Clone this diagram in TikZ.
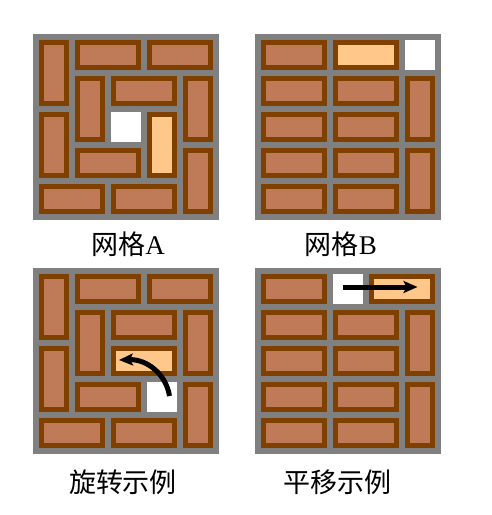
\documentclass[tikz,border=0pt]{standalone}
\usepackage{fontspec}
\setmainfont{Liberation Serif}
\newfontfamily\cjk{Noto Sans CJK SC}
\usetikzlibrary{arrows.meta}

\definecolor{brickline}{RGB}{128,64,0}
\definecolor{brickfill}{RGB}{191,123,87}
\definecolor{pickfill}{RGB}{255,200,138}

\begin{document}
\begin{tikzpicture}[x=1pt, y=-1pt,
  frame/.style={fill=gray},
  tile/.style={draw=brickline, fill=brickfill, line width=5pt},
  picked/.style={draw=brickline, fill=pickfill, line width=5pt},
  hole/.style={fill=white},
  move/.style={line width=5pt, -{Stealth[length=14pt,width=12pt,inset=3pt]}},
  caption/.style={font=\fontsize{27}{27}\selectfont}]

\useasboundingbox (0,0) rectangle (492,515);

% grid A
\begin{scope}[shift={(33,34)}]
\fill[frame] (0,0) rectangle (185.5,185.5);
\foreach \a/\b/\c/\d in {0/0/0/1, 1/0/2/0, 3/0/4/0, 1/1/1/2, 2/1/3/1, 4/1/4/2,
                         0/2/0/3, 1/3/2/3, 4/3/4/4, 0/4/1/4, 2/4/3/4}
  \draw[tile] ({8+36*\a}, {8+36*\b}) rectangle ({33.5+36*\c}, {33.5+36*\d});
\draw[picked] (116,80) rectangle (141.5,141.5);
\fill[hole] (77.5,77.5) rectangle (108,108);
\end{scope}

% grid B
\begin{scope}[shift={(255,34)}]
\fill[frame] (0,0) rectangle (185.5,185.5);
\foreach \a/\b/\c/\d in {0/0/1/0, 4/1/4/2, 4/3/4/4}
  \draw[tile] ({8+36*\a}, {8+36*\b}) rectangle ({33.5+36*\c}, {33.5+36*\d});
\foreach \r in {1,...,4} {
  \draw[tile] (8, {8+36*\r}) rectangle (69.5, {33.5+36*\r});
  \draw[tile] (80, {8+36*\r}) rectangle (141.5, {33.5+36*\r});
}
\draw[picked] (80,8) rectangle (141.5,33.5);
\fill[hole] (149.5,5.5) rectangle (180,36);
\end{scope}

% grid C (rotation)
\begin{scope}[shift={(33,268)}]
\fill[frame] (0,0) rectangle (185.5,185.5);
\foreach \a/\b/\c/\d in {0/0/0/1, 1/0/2/0, 3/0/4/0, 1/1/1/2, 2/1/3/1, 4/1/4/2,
                         0/2/0/3, 1/3/2/3, 4/3/4/4, 0/4/1/4, 2/4/3/4}
  \draw[tile] ({8+36*\a}, {8+36*\b}) rectangle ({33.5+36*\c}, {33.5+36*\d});
\draw[picked] (80,80) rectangle (141.5,105.5);
\fill[hole] (113.5,113.5) rectangle (144,144);
\coordinate (rotfrom) at (136.5,128);
\coordinate (rotto) at (86,92);
\draw[move] (rotfrom) .. controls (133,106) and (114,91) .. (rotto);
\end{scope}

% grid D (translation)
\begin{scope}[shift={(255,268)}]
\fill[frame] (0,0) rectangle (185.5,185.5);
\foreach \a/\b/\c/\d in {0/0/1/0, 4/1/4/2, 4/3/4/4}
  \draw[tile] ({8+36*\a}, {8+36*\b}) rectangle ({33.5+36*\c}, {33.5+36*\d});
\foreach \r in {1,...,4} {
  \draw[tile] (8, {8+36*\r}) rectangle (69.5, {33.5+36*\r});
  \draw[tile] (80, {8+36*\r}) rectangle (141.5, {33.5+36*\r});
}
\draw[picked] (116,8) rectangle (177.5,33.5);
\fill[hole] (77.5,5.5) rectangle (108,36);
\coordinate (shiftfrom) at (88,19);
\coordinate (shiftto) at (162.5,19);
\draw[move] (shiftfrom) -- (shiftto);
\end{scope}

\node[caption] (capA) at (128,244) {{\cjk 网格}A};
\node[caption] (capB) at (341,244) {{\cjk 网格}B};
\node[caption] (capRot) at (123,482) {\cjk 旋转示例};
\node[caption] (capMove) at (337,482) {\cjk 平移示例};

\end{tikzpicture}
\end{document}
